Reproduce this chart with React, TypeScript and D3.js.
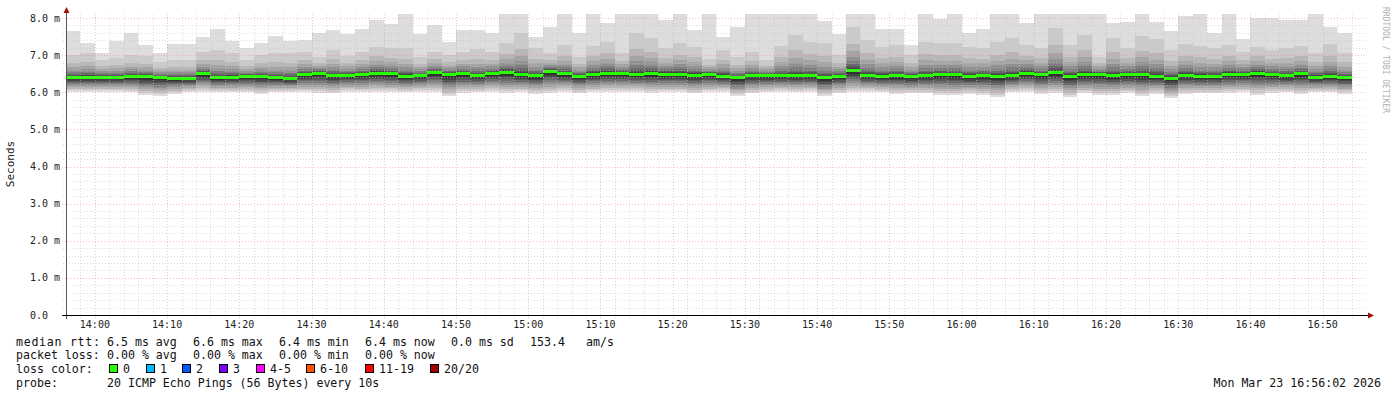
import React from 'react';
import * as d3 from 'd3';

// 2-minute smoke columns, 13:56 .. 16:54 (ms)
const medianRtt = [
  6.42, 6.42, 6.42, 6.42, 6.45, 6.43, 6.41, 6.39, 6.39, 6.51, 6.41, 6.42, 6.44, 6.44, 6.41,
  6.39, 6.50, 6.53, 6.47, 6.47, 6.50, 6.53, 6.51, 6.45, 6.46, 6.55, 6.49, 6.52, 6.47, 6.52, 6.55,
  6.49, 6.46, 6.58, 6.51, 6.45, 6.50, 6.53, 6.53, 6.50, 6.52, 6.50, 6.50, 6.47, 6.50, 6.45,
  6.40, 6.46, 6.46, 6.46, 6.46, 6.46, 6.40, 6.45, 6.60, 6.46, 6.44, 6.46, 6.43, 6.46, 6.49,
  6.48, 6.44, 6.46, 6.44, 6.46, 6.53, 6.48, 6.54, 6.44, 6.48, 6.49, 6.46, 6.49, 6.48, 6.45,
  6.39, 6.47, 6.44, 6.44, 6.50, 6.50, 6.53, 6.50, 6.46, 6.51, 6.42, 6.45, 6.41,
];
const maxRtt = [
  7.65, 7.33, 7.07, 7.38, 7.59, 7.28, 7.07, 7.31, 7.31, 7.50, 7.70, 7.38, 7.18, 7.33, 7.51,
  7.38, 7.41, 7.59, 7.68, 7.56, 7.70, 7.95, 7.84, 8.1, 7.56, 7.81, 7.36, 7.68, 7.68, 7.60, 8.1,
  8.1, 7.50, 7.77, 8.1, 7.60, 8.1, 7.87, 8.1, 8.1, 8.1, 7.95, 8.1, 7.68, 8.1, 7.50,
  7.77, 8.1, 8.1, 8.1, 8.1, 8.1, 7.92, 7.56, 8.1, 8.1, 7.70, 7.70, 7.27, 8.1, 7.97,
  8.1, 7.59, 7.70, 8.1, 8.1, 7.87, 8.1, 8.1, 8.1, 8.1, 8.1, 7.87, 7.90, 8.1, 7.90,
  7.65, 8.05, 8.1, 7.59, 8.1, 7.43, 7.99, 7.99, 7.95, 7.95, 8.1, 7.77, 7.59,
];
// second-highest ping (top of the second smoke layer)
const highRtt = [
  7.00, 7.05, 6.87, 6.93, 7.00, 6.97, 6.82, 6.87, 6.87, 7.09, 7.14, 7.05, 6.87, 7.00, 7.05,
  7.05, 7.09, 6.96, 7.14, 6.98, 7.09, 7.23, 7.18, 7.18, 6.96, 7.09, 7.00, 7.09, 7.16, 7.09, 7.32,
  7.59, 7.18, 7.05, 7.27, 6.96, 7.25, 7.36, 7.05, 7.59, 7.45, 7.18, 7.32, 7.23, 6.89, 7.14,
  6.96, 7.09, 6.87, 7.25, 7.54, 7.36, 7.32, 7.00, 7.75, 7.41, 7.23, 7.27, 7.00, 7.36, 7.32,
  7.32, 7.23, 7.18, 7.36, 7.45, 7.27, 7.18, 7.72, 7.27, 7.54, 6.96, 7.45, 7.18, 7.52, 7.43,
  7.14, 7.30, 7.25, 7.18, 7.27, 7.09, 7.23, 7.14, 7.20, 7.25, 7.05, 7.30, 7.05,
];
const minRtt = [
  6.02, 6.02, 6.02, 6.02, 6.00, 5.93, 5.90, 5.96, 6.00, 6.02, 6.00, 6.00, 6.00, 5.96, 6.00,
  6.00, 6.00, 5.97, 5.97, 6.02, 6.00, 6.02, 6.00, 6.00, 6.02, 6.00, 5.90, 5.97, 6.00, 6.02, 5.97,
  6.00, 5.96, 5.97, 6.02, 5.97, 6.00, 6.00, 6.02, 6.02, 5.97, 6.00, 6.00, 5.97, 6.00, 6.02,
  5.90, 5.97, 6.00, 6.02, 6.00, 6.02, 5.90, 5.97, 6.00, 6.02, 6.00, 5.96, 5.97, 5.97, 5.93,
  5.93, 5.96, 5.93, 5.88, 6.00, 6.00, 5.96, 5.97, 5.88, 5.97, 5.93, 5.93, 5.97, 5.90, 5.96,
  5.85, 5.96, 5.97, 5.97, 5.97, 6.00, 5.93, 5.97, 6.00, 5.96, 6.00, 6.00, 5.96,
];

const yTickLabels = ['0.0', '1.0 m', '2.0 m', '3.0 m', '4.0 m', '5.0 m', '6.0 m', '7.0 m', '8.0 m'];
const lossLabels = ['0', '1', '2', '3', '4-5', '6-10', '11-19', '20/20'];
const lossColors = ['#26ff00', '#00b8ff', '#0059ff', '#7e00ff', '#ff00ff', '#ff5500', '#ff0000', '#a10000'];
const lossX = [109, 146, 182, 219, 256, 306, 365, 430];
const rttLegend = ['6.5 ms avg', '6.6 ms max', '6.4 ms min', '6.4 ms now', '0.0 ms sd'];
const lossLegend = ['0.00 % avg', '0.00 % max', '0.00 % min', '0.00 % now'];

const W = 1397;
const H = 397;
const mono = '"DejaVu Sans Mono", monospace';

// how far each smoke layer reaches from the median towards the high / low ping
const upFrac = [1, 1, 0.62, 0.44, 0.31, 0.21, 0.14, 0.09, 0.05, 0.02];
const downFrac = [1, 0.9, 0.8, 0.7, 0.6, 0.5, 0.42, 0.34, 0.26, 0.18];

export default function App() {
  const t0 = new Date(2026, 2, 23, 13, 56);
  const t1 = new Date(2026, 2, 23, 16, 56);
  const x = d3.scaleTime().domain([t0, t1]).range([66, 1366]);
  const y = d3.scaleLinear().domain([0, 8.1]).range([315, 14.3]);

  const times = medianRtt.map((_, i) => d3.timeMinute.offset(t0, 2 * i));
  const minorX = d3.timeMinute.every(2)!.range(t0, t1);
  const majorX = d3.timeMinute.every(10)!.range(t0, t1);
  const fmt = d3.timeFormat('%H:%M');
  const minorY = d3.range(0, 41).map(v => v / 5);

  const greys = d3.range(10).map(k => {
    const g = Math.round((190 / 10) * (10 - k)) + 31;
    return `rgb(${g},${g},${g})`;
  });

  const smoke: JSX.Element[] = [];
  medianRtt.forEach((m, i) => {
    const xa = Math.round(x(times[i]));
    const xb = Math.round(x(d3.timeMinute.offset(times[i], 2)));
    for (let k = 0; k < 10; k++) {
      const top = k === 0 ? maxRtt[i] : m + (highRtt[i] - m) * upFrac[k];
      const bot = m - (m - minRtt[i]) * downFrac[k];
      const ya = Math.round(y(Math.min(top, 8.1)));
      const yb = Math.round(y(bot));
      smoke.push(
        <rect key={`s${i}-${k}`} x={xa} y={ya} width={xb - xa} height={yb - ya} fill={greys[k]} />
      );
    }
  });

  return (
    <svg width={W} height={H} style={{ position: 'absolute', left: 0, top: 0, background: '#fff' }}
      fontFamily={mono}>
      <rect width={W} height={H} fill="#fff" />
      <g shapeRendering="crispEdges">{smoke}</g>
      <g shapeRendering="crispEdges">
        {medianRtt.map((m, i) => {
          const xa = Math.round(x(times[i]));
          const xb = Math.round(x(d3.timeMinute.offset(times[i], 2)));
          return <rect key={`m${i}`} x={xa} y={Math.round(y(m)) - 1.5} width={xb - xa} height={3} fill="#26ff00" />;
        })}
      </g>
      {/* grid */}
      <g shapeRendering="crispEdges" strokeDasharray="1,2" fill="none">
        {minorY.filter((_, i) => i % 5 !== 0).map(v => (
          <line key={`gy${v}`} x1={63} x2={1367} y1={Math.round(y(v)) + 0.5} y2={Math.round(y(v)) + 0.5}
            stroke="#c4c4c4" strokeOpacity={0.6} />
        ))}
        {minorX.filter(t => t.getMinutes() % 10 !== 0).map(t => (
          <line key={`gx${+t}`} x1={Math.round(x(t)) + 0.5} x2={Math.round(x(t)) + 0.5} y1={14} y2={318}
            stroke="#c4c4c4" strokeOpacity={0.6} />
        ))}
        {d3.range(1, 9).map(v => (
          <line key={`My${v}`} x1={62} x2={1367} y1={Math.round(y(v)) + 0.5} y2={Math.round(y(v)) + 0.5}
            stroke="#f08888" strokeOpacity={0.55} />
        ))}
        {majorX.filter(t => t.getMinutes() % 10 === 0).map(t => (
          <line key={`Mx${+t}`} x1={Math.round(x(t)) + 0.5} x2={Math.round(x(t)) + 0.5} y1={14} y2={319}
            stroke="#f08888" strokeOpacity={0.55} />
        ))}
      </g>
      {/* axes */}
      <g shapeRendering="crispEdges">
        <line x1={66.5} x2={66.5} y1={12} y2={319} stroke="#555" />
        <line x1={62} x2={1368} y1={315.5} y2={315.5} stroke="#000" />
      </g>
      <path d="M63.5,13 L66.5,7 L69.5,13 Z" fill="#a01010" />
      <path d="M1368,312.5 L1374,315.5 L1368,318.5 Z" fill="#a01010" />
      {/* y labels */}
      <g fontSize={10} fill="#222" textAnchor="end">
        {yTickLabels.map((s, i) => (
          <text key={s} x={s === '0.0' ? 48 : 60} y={y(i) + 3.5}>{s}</text>
        ))}
      </g>
      <text transform="translate(14,164) rotate(-90)" fontSize={11} textAnchor="middle" fill="#222">Seconds</text>
      {/* x labels */}
      <g fontSize={10} fill="#222" textAnchor="middle">
        {majorX.filter(t => t.getMinutes() % 10 === 0).map(t => (
          <text key={`xl${+t}`} x={x(t)} y={328}>{fmt(t)}</text>
        ))}
      </g>
      <text transform="translate(1383,60) rotate(90)" fontSize={8} textAnchor="middle" fill="#b0b0b0">
        RRDTOOL / TOBI OETIKER
      </text>
      {/* legend */}
      <g fontSize={11.6} fill="#111">
        <text x={16} y={346} textLength={84} lengthAdjust="spacing">median rtt:</text>
        {rttLegend.map((s, i) => <text key={s + i} x={107 + 86 * i} y={346}>{s}</text>)}
        <text x={530} y={346}>153.4</text>
        <text x={586} y={346}>am/s</text>
        <text x={16} y={359}>packet loss:</text>
        {lossLegend.map((s, i) => <text key={s + i} x={107 + 86 * i} y={359}>{s}</text>)}
        <text x={16} y={373}>loss color:</text>
        {lossLabels.map((s, i) => (
          <g key={s}>
            <rect x={lossX[i] + 0.5} y={364.5} width={8} height={8} fill={lossColors[i]} stroke="#000" />
            <text x={lossX[i] + 14} y={373}>{s}</text>
          </g>
        ))}
        <text x={16} y={387}>probe:</text>
        <text x={107} y={387}>20 ICMP Echo Pings (56 Bytes) every 10s</text>
        <text x={1381} y={387} textAnchor="end">Mon Mar 23 16:56:02 2026</text>
      </g>
    </svg>
  );
}
